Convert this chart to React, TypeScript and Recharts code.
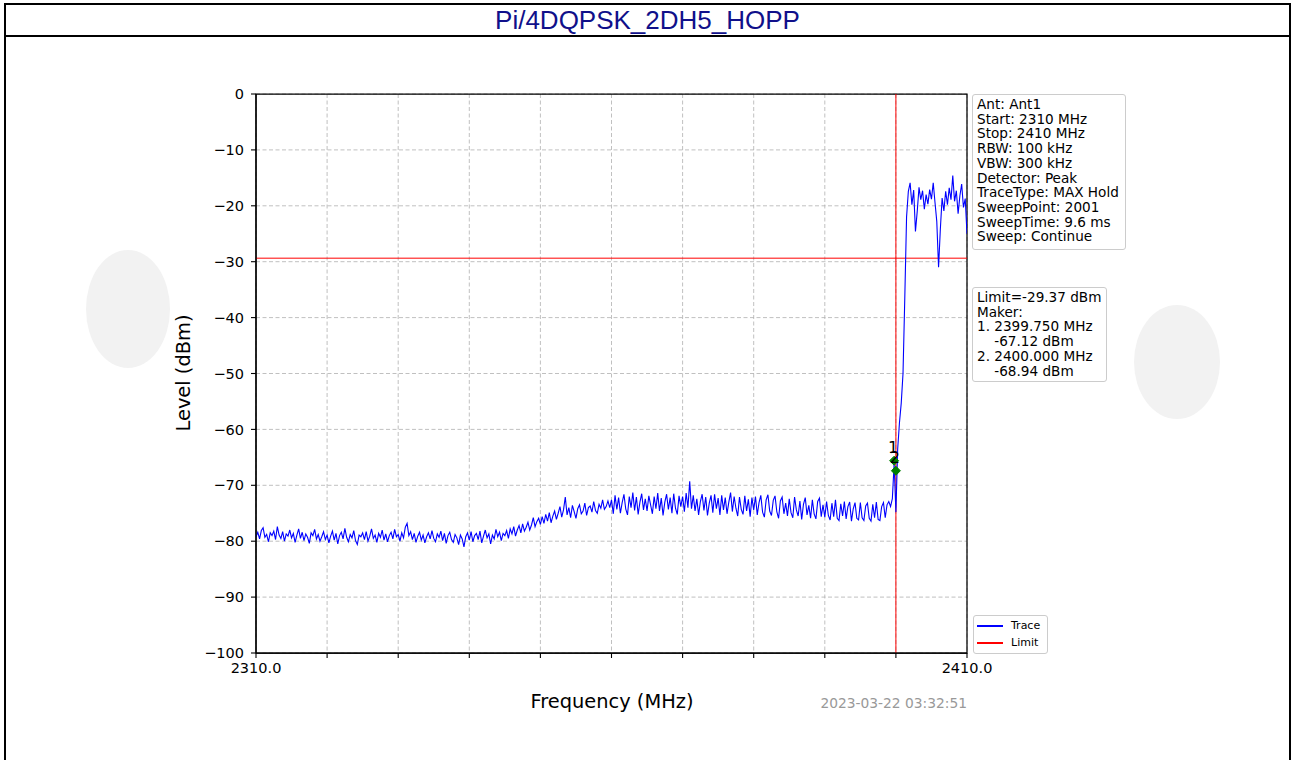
import { ComposedChart, Line, Scatter, XAxis, YAxis, CartesianGrid, ReferenceLine, ReferenceArea } from 'recharts';

// sweep grid: 2310..2410 MHz, every 0.25 MHz
const sweepStart = 2310;
const sweepStep = 0.25;

// 2310 - 2344.75 MHz, noise floor
const floorLevels = [
    -79.2, -78.4, -79.6, -78.1, -77.6, -79.3, -78.8, -80.1, -78.5, -79.0, -78.2, -79.7, -77.4, -78.9, -79.5, -78.3, -80.0, -78.7, -79.1, -78.0,
    -79.4, -78.6, -80.2, -78.9, -77.8, -79.5, -78.4, -79.9, -78.7, -79.3, -80.4, -78.5, -79.0, -77.9, -79.6, -78.8, -80.0, -79.2, -78.3, -79.7,
    -78.9, -80.3, -79.1, -78.2, -79.8, -78.6, -80.5, -79.0, -78.4, -79.6, -77.7, -79.3, -80.1, -78.8, -79.4, -78.1, -79.9, -80.6, -78.9, -79.2,
    -78.5, -79.7, -78.3, -80.0, -79.1, -77.8, -79.5, -78.9, -80.2, -78.6, -79.3, -78.0, -79.8, -78.7, -80.1, -79.0, -78.4, -79.6, -77.9, -79.2,
    -78.8, -80.0, -78.5, -79.4, -77.5, -76.8, -79.0, -78.3, -79.7, -78.6, -80.2, -79.1, -78.4, -79.8, -78.9, -80.3, -79.2, -78.5, -79.6, -78.1,
    -79.5, -80.1, -78.7, -79.3, -78.2, -79.9, -78.6, -80.4, -79.0, -78.4, -79.7, -80.2, -78.8, -79.4, -80.6, -78.9, -79.6, -81.0, -79.2, -78.5,
    -79.8, -78.3, -80.1, -79.0, -78.6, -79.7, -78.2, -80.3, -79.1, -78.0, -79.4, -78.7, -80.5, -78.9, -79.6, -77.9, -79.2, -78.4, -79.9, -78.6,
];

// 2345 - 2359.75 MHz, slow rise
const riseLevels = [
    -79.0, -78.1, -79.5, -77.8, -78.7, -77.4, -79.1, -78.0, -77.2, -78.5, -76.9, -78.2, -77.5, -76.6, -78.0, -77.1, -75.8, -77.4, -76.5, -75.9,
    -77.0, -75.6, -76.8, -75.2, -76.4, -74.9, -76.7, -75.5, -74.6, -76.1, -75.0, -73.8, -75.7, -74.4, -72.1, -75.3, -74.0, -75.8, -73.6, -74.7,
    -75.9, -74.2, -73.5, -75.1, -74.6, -73.2, -75.4, -74.0, -73.7, -74.8, -72.9, -74.5, -75.0, -73.4, -74.1, -72.6, -74.3, -73.8, -72.8, -74.0,
];

// 2360 - 2399.75 MHz, plateau below the band edge
const plateauLevels = [
    -72.6, -75.1, -71.8, -74.3, -72.2, -75.0, -73.1, -71.6, -74.2, -75.3, -72.0, -74.0, -71.3, -74.5, -72.1, -75.2, -73.0, -71.5, -74.4, -72.4,
    -74.6, -71.9, -73.5, -75.1, -72.0, -74.2, -71.4, -74.6, -72.3, -75.4, -73.0, -71.6, -74.3, -72.2, -75.0, -71.5, -74.1, -75.2, -71.9, -73.8,
    -72.0, -74.7, -71.4, -74.0, -69.3, -74.2, -71.8, -74.6, -72.4, -75.3, -72.9, -71.6, -74.5, -72.1, -75.4, -73.2, -71.8, -74.9, -71.6, -74.2,
    -72.3, -75.3, -71.8, -74.4, -72.2, -75.1, -73.0, -71.3, -74.7, -72.0, -74.1, -75.5, -72.1, -74.3, -75.2, -71.9, -74.6, -72.5, -75.6, -72.2,
    -74.4, -72.0, -75.3, -73.1, -71.8, -74.8, -75.7, -72.6, -71.7, -74.6, -75.4, -72.7, -71.9, -74.7, -75.9, -72.8, -72.1, -75.1, -73.2, -75.5,
    -72.4, -74.9, -75.8, -72.1, -74.4, -75.5, -72.8, -76.1, -73.4, -72.2, -75.3, -73.6, -75.9, -72.6, -75.1, -76.0, -72.9, -72.3, -75.6, -73.5,
    -75.7, -72.9, -75.4, -76.2, -73.2, -75.6, -72.6, -75.9, -76.3, -73.3, -75.5, -72.9, -76.0, -73.8, -73.0, -76.4, -74.2, -73.1, -75.9, -76.2,
    -73.1, -75.8, -76.3, -73.7, -73.2, -75.9, -76.4, -73.4, -75.8, -73.0, -76.1, -76.3, -73.8, -73.1, -75.8, -73.5, -72.9, -73.8, -72.4, -66.2,
];

// 2400 - 2410 MHz, band edge and in-band signal
const bandLevels = [
    -74.8, -63.5, -58.8, -55.3, -50.0, -36.5, -22.0, -17.4, -15.9, -19.8, -17.2, -24.6, -21.0, -16.7, -18.9, -17.3, -20.6, -18.0, -19.7, -17.1,
    -18.8, -15.9, -19.4, -22.8, -31.0, -24.2, -18.6, -20.9, -17.4, -19.8, -16.8, -18.9, -14.6, -19.2, -17.3, -21.4, -18.2, -16.1, -20.3, -18.7,
    -25.0,
];

const traceData = [...floorLevels, ...riseLevels, ...plateauLevels, ...bandLevels].map((level, i) => ({
    freq: sweepStart + i * sweepStep,
    level,
}));

const markerFreqs = [2399.75, 2400.0];
const markerLevels = [-65.6, -67.4];
const markerNames = ['1', '2'];
const markerData = markerFreqs.map((freq, i) => ({ freq, level: markerLevels[i], name: markerNames[i] }));

const limitLevel = -29.37;
const edgeFreq = 2400;

const xDomain = [2310, 2410];
const yDomain = [-100, 0];
const xTicks = [2310, 2320, 2330, 2340, 2350, 2360, 2370, 2380, 2390, 2400, 2410];
const xTickLabels = ['2310.0', '', '', '', '', '', '', '', '', '', '2410.0'];
const yTicks = [0, -10, -20, -30, -40, -50, -60, -70, -80, -90, -100];

const settingsLines = [
    'Ant: Ant1',
    'Start: 2310 MHz',
    'Stop: 2410 MHz',
    'RBW: 100 kHz',
    'VBW: 300 kHz',
    'Detector: Peak',
    'TraceType: MAX Hold',
    'SweepPoint: 2001',
    'SweepTime: 9.6 ms',
    'Sweep: Continue',
];

const markerLines = [
    'Limit=-29.37 dBm',
    'Maker:',
    '1. 2399.750 MHz',
    '    -67.12 dBm',
    '2. 2400.000 MHz',
    '    -68.94 dBm',
];

const legendItems = [
    { name: 'Trace', color: '#0000ff' },
    { name: 'Limit', color: '#ff0000' },
];

const FONT = '"DejaVu Sans", sans-serif';

const fmtY = (v: number) => (v < 0 ? `\u2212${Math.abs(v)}` : `${v}`);

const MarkerShape = (props: any) => {
    const { cx, cy, payload } = props;
    if (cx == null || cy == null) return null;
    const r = 4.5;
    return (
        <g>
            <polygon points={`${cx},${cy - r} ${cx + r},${cy} ${cx},${cy + r} ${cx - r},${cy}`} fill="#008000" stroke="#008000" />
            <text x={cx - 1} y={cy - 8} textAnchor="middle" fontSize={16} fontFamily={FONT} fill="#000">
                {payload.name}
            </text>
        </g>
    );
};

const boxStyle: React.CSSProperties = {
    position: 'absolute',
    background: 'rgba(255,255,255,0.85)',
    border: '1px solid #cccccc',
    borderRadius: 3,
    fontFamily: FONT,
    fontSize: 13.6,
    lineHeight: '14.7px',
    color: '#000',
    whiteSpace: 'pre',
    boxSizing: 'border-box',
};

export default function App() {
    return (
        <div style={{ position: 'absolute', left: 0, top: 0, width: 1295, height: 760, overflow: 'hidden', background: '#fff' }}>
            {/* faint watermarks */}
            <div style={{ position: 'absolute', left: 86, top: 250, width: 84, height: 118, borderRadius: '50%', background: '#f2f2f2' }} />
            <div style={{ position: 'absolute', left: 1134, top: 305, width: 86, height: 114, borderRadius: '50%', background: '#f2f2f2' }} />

            {/* page frame and title band */}
            <div style={{ position: 'absolute', left: 4, top: 3, width: 1287, height: 2, background: '#000' }} />
            <div style={{ position: 'absolute', left: 4, top: 35, width: 1287, height: 2, background: '#000' }} />
            <div style={{ position: 'absolute', left: 4, top: 3, width: 2, height: 760, background: '#000' }} />
            <div style={{ position: 'absolute', left: 1289, top: 3, width: 2, height: 760, background: '#000' }} />
            <div
                style={{
                    position: 'absolute', left: 0, top: 5, width: 1295, height: 30, lineHeight: '30px', textAlign: 'center',
                    fontFamily: '"Liberation Sans", Arial, sans-serif', fontSize: 26, color: '#10108a',
                }}
            >
                Pi/4DQPSK_2DH5_HOPP
            </div>

            <div style={{ position: 'absolute', left: 0, top: 0 }}>
                <ComposedChart width={1295} height={760} margin={{ top: 94, right: 328, bottom: 77, left: 196 }}>
                    <CartesianGrid stroke="#b0b0b0" strokeDasharray="4 2.5" strokeWidth={0.8} />
                    <XAxis
                        type="number"
                        dataKey="freq"
                        domain={xDomain}
                        ticks={xTicks}
                        interval={0}
                        allowDataOverflow
                        height={30}
                        tickSize={5}
                        tickMargin={5}
                        tickFormatter={(v: number, i: number) => xTickLabels[i] ?? ''}
                        tick={{ fill: '#000', fontSize: 14.5, fontFamily: FONT }}
                        axisLine={{ stroke: '#000', strokeWidth: 1.25 }}
                        tickLine={{ stroke: '#000', strokeWidth: 1.1 }}
                    />
                    <YAxis
                        type="number"
                        dataKey="level"
                        domain={yDomain}
                        ticks={yTicks}
                        interval={0}
                        allowDataOverflow
                        width={60}
                        tickSize={5}
                        tickMargin={7}
                        tickFormatter={fmtY}
                        tick={{ fill: '#000', fontSize: 14.5, fontFamily: FONT }}
                        axisLine={{ stroke: '#000', strokeWidth: 1.25 }}
                        tickLine={{ stroke: '#000', strokeWidth: 1.1 }}
                    />
                    <ReferenceLine y={limitLevel} stroke="#ff0000" strokeWidth={1} />
                    <ReferenceLine x={edgeFreq} stroke="#ff0000" strokeWidth={1} />
                    <Line
                        data={traceData}
                        dataKey="level"
                        type="linear"
                        stroke="#0000ff"
                        strokeWidth={1.1}
                        dot={false}
                        activeDot={false}
                        isAnimationActive={false}
                    />
                    <Scatter data={markerData} dataKey="level" shape={MarkerShape} isAnimationActive={false} />
                    <ReferenceArea
                        x1={xDomain[0]}
                        x2={xDomain[1]}
                        y1={yDomain[0]}
                        y2={yDomain[1]}
                        fill="none"
                        fillOpacity={0}
                        stroke="#000"
                        strokeWidth={1.25}
                    />
                </ComposedChart>
            </div>

            {/* axis titles */}
            <div
                style={{
                    position: 'absolute', left: 84, top: 361, width: 200, height: 24, lineHeight: '24px', textAlign: 'center',
                    transform: 'rotate(-90deg)', fontFamily: FONT, fontSize: 19.4, color: '#000',
                }}
            >
                Level (dBm)
            </div>
            <div
                style={{
                    position: 'absolute', left: 412, top: 690, width: 400, height: 24, lineHeight: '24px', textAlign: 'center',
                    fontFamily: FONT, fontSize: 19.4, color: '#000',
                }}
            >
                Frequency (MHz)
            </div>
            <div
                style={{
                    position: 'absolute', right: 328, top: 695, lineHeight: '16px', textAlign: 'right',
                    fontFamily: FONT, fontSize: 13.8, color: '#999',
                }}
            >
                2023-03-22 03:32:51
            </div>

            {/* settings box */}
            <div style={{ ...boxStyle, left: 972, top: 94, width: 154, height: 156, padding: '2px 0 0 4px' }}>
                {settingsLines.join('\n')}
            </div>

            {/* limit / marker box */}
            <div style={{ ...boxStyle, left: 972, top: 287, width: 135, height: 95, padding: '2px 0 0 4px' }}>
                {markerLines.join('\n')}
            </div>

            {/* legend */}
            <div
                style={{
                    position: 'absolute', left: 973, top: 615, width: 75, height: 39, boxSizing: 'border-box',
                    border: '1px solid #cccccc', borderRadius: 3, background: 'rgba(255,255,255,0.85)',
                    fontFamily: FONT, fontSize: 11, color: '#000',
                }}
            >
                {legendItems.map((item, i) => (
                    <div key={item.name} style={{ position: 'absolute', left: 3, top: 3 + i * 17, height: 14, display: 'flex', alignItems: 'center' }}>
                        <div style={{ width: 26, height: 1.5, background: item.color }} />
                        <span style={{ marginLeft: 8, lineHeight: '14px' }}>{item.name}</span>
                    </div>
                ))}
            </div>
        </div>
    );
}
